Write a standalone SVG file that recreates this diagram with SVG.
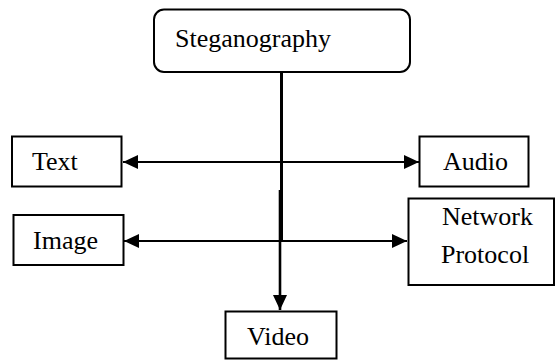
<svg xmlns="http://www.w3.org/2000/svg" width="555" height="361" viewBox="0 0 555 361">
<defs>
<style>
.box{fill:#fff;stroke:#000;stroke-width:2}
.lbl{font-family:"Liberation Serif","Times New Roman",serif;font-size:26px;fill:#000}
.ln{stroke:#000;fill:none}
</style>
<marker id="ah" markerWidth="15" markerHeight="14" refX="15" refY="7" orient="auto-start-reverse" markerUnits="userSpaceOnUse">
<path d="M0,0 L15,7 L0,14 Z" fill="#000"/>
</marker>
</defs>
<rect width="555" height="361" fill="#fff"/>
<g id="connectors">
<line class="ln" x1="281.5" y1="72" x2="281.5" y2="241" stroke-width="3"/>
<line class="ln" x1="280" y1="190" x2="280" y2="310" stroke-width="2.6" marker-end="url(#ah)"/>
<line class="ln" x1="123" y1="162" x2="419" y2="162" stroke-width="2" marker-start="url(#ah)" marker-end="url(#ah)"/>
<line class="ln" x1="124" y1="241" x2="407" y2="241" stroke-width="2.2" marker-start="url(#ah)" marker-end="url(#ah)"/>
</g>
<g id="steganography">
<rect class="box" x="154" y="9.5" width="256" height="62.5" rx="10"/>
<text class="lbl" x="175" y="47">Steganography</text>
</g>
<g id="text">
<rect class="box" x="12" y="136.5" width="109.5" height="50"/>
<text class="lbl" x="32" y="170">Text</text>
</g>
<g id="audio">
<rect class="box" x="419.5" y="136.5" width="109" height="50"/>
<text class="lbl" x="443" y="170">Audio</text>
</g>
<g id="image">
<rect class="box" x="13.5" y="215" width="110" height="50"/>
<text class="lbl" x="33" y="249">Image</text>
</g>
<g id="network-protocol">
<rect class="box" x="408.5" y="198.5" width="145.5" height="86.5"/>
<text class="lbl" x="442" y="225">Network</text>
<text class="lbl" x="441" y="263">Protocol</text>
</g>
<g id="video">
<rect class="box" x="225.5" y="311.5" width="111" height="47"/>
<text class="lbl" x="247" y="345">Video</text>
</g>
</svg>
